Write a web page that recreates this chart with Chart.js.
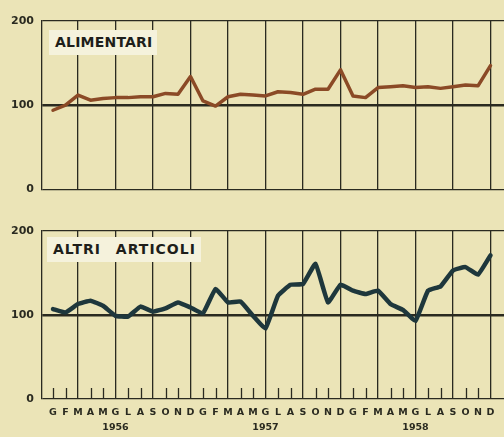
<!DOCTYPE html>
<html><head><meta charset="utf-8">
<script src="https://cdn.jsdelivr.net/npm/chart.js@4"></script>
<style>
html,body{margin:0;padding:0;background:#ebe4b7;width:504px;height:437px;overflow:hidden}
.panel{position:absolute;left:0;width:504px}
#p1{top:0;height:204px}
#p2{top:210px;height:227px}
.lbl{position:absolute;background:#f5f2dc;color:#1e1e1a;font:bold 14px "DejaVu Sans",sans-serif;padding:4px 5px 4px 6px;line-height:17px;white-space:nowrap}
</style></head><body>
<div class="panel" id="p1"><canvas id="c1" width="504" height="204"></canvas></div>
<div class="panel" id="p2"><canvas id="c2" width="504" height="227"></canvas></div>
<div class="lbl" style="left:49px;top:30px;letter-spacing:0.2px">ALIMENTARI</div>
<div class="lbl" style="left:47px;top:237px;letter-spacing:1px;word-spacing:9px">ALTRI ARTICOLI</div>
<script>
const months = ['G','F','M','A','M','G','L','A','S','O','N','D'];
const years = ['1956','1957','1958'];
const yTicks = [0, 100, 200];
const alimentari = [94,100,112,106,108,109,109,110,110,114,113,134,
                    105,99,110,113,112,111,116,115,113,119,119,142,
                    111,109,121,122,123,121,122,120,122,124,123,147];
const altriArticoli = [107,103,113,117,111,99,98,110,104,108,115,109,
                       102,131,115,116,99,84,123,136,137,161,115,136,
                       129,125,129,113,106,93,129,134,153,157,148,171];

const monthLabels = [];
years.forEach(y => months.forEach((m, k) => monthLabels.push(k === 5 ? [m, y] : m)));

const DARK = '#2a2a20';

const monthTicks = {
  id: 'monthTicks',
  beforeDatasetsDraw(chart, args, opts) {
    if (!opts.show) return;
    const xs = chart.scales.x, ys = chart.scales.y, c = chart.ctx;
    const yb = ys.getPixelForValue(0);
    c.save();
    c.strokeStyle = DARK; c.lineWidth = 1.3;
    monthLabels.forEach((_, i) => {
      if (i % 3 === 2) return;
      const x = Math.round(xs.getPixelForValue(i)) + 0.5;
      c.beginPath(); c.moveTo(x, yb); c.lineTo(x, yb - 11); c.stroke();
    });
    c.restore();
  }
};

function makeChart(id, values, color, width, showLabels, padTop, xHeight, tension) {
  return new Chart(document.getElementById(id), {
    type: 'line',
    data: { datasets: [{
      data: values.map((v, i) => ({ x: i, y: v })),
      borderColor: color, borderWidth: width, pointRadius: 0, tension: tension,
      borderJoinStyle: 'round', borderCapStyle: 'round', fill: false
    }]},
    options: {
      responsive: false, animation: false, devicePixelRatio: 1,
      layout: { padding: { top: padTop, bottom: 0, left: 0, right: 0 } },
      plugins: { legend: { display: false }, tooltip: { enabled: false }, monthTicks: { show: showLabels } },
      scales: {
        x: {
          type: 'linear', min: -0.88, max: 36.08,
          afterBuildTicks: s => { s.ticks = monthLabels.map((_, i) => ({ value: i })); },
          afterFit: s => { s.height = xHeight; },
          border: { display: false },
          grid: {
            color: ctx => (ctx.tick && ctx.tick.value % 3 === 2) ? DARK : 'rgba(0,0,0,0)',
            lineWidth: 1.3, drawTicks: false
          },
          ticks: {
            display: showLabels, autoSkip: false, maxRotation: 0, padding: 6,
            color: DARK,
            font: { family: '"DejaVu Sans", sans-serif', weight: 'bold', size: 9.5, lineHeight: '15px' },
            callback: v => monthLabels[v]
          }
        },
        y: {
          min: 0, max: 200,
          afterBuildTicks: s => { s.ticks = yTicks.map(v => ({ value: v })); },
          afterFit: s => { s.width = 42; },
          border: { display: true, color: DARK, width: 1.3 },
          grid: {
            color: DARK,
            lineWidth: ctx => (ctx.tick && ctx.tick.value === 100) ? 2.6 : 1.3,
            drawTicks: false
          },
          ticks: {
            padding: 8, color: DARK,
            font: { family: '"DejaVu Sans", sans-serif', weight: 'bold', size: 11 }
          }
        }
      }
    },
    plugins: [monthTicks]
  });
}

makeChart('c1', alimentari, '#8b4a26', 3.5, false, 21, 8, 0);
makeChart('c2', altriArticoli, '#1e373c', 4.5, true, 21, 38, 0.1);
</script>
</body></html>
